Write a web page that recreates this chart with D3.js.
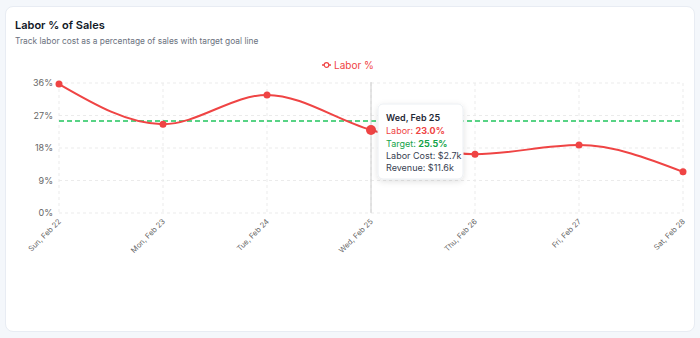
<!DOCTYPE html>
<html>
<head>
<meta charset="utf-8">
<script src="https://cdn.jsdelivr.net/npm/d3@7/dist/d3.min.js"></script>
<style>
  html, body { margin: 0; padding: 0; background: #f4f7fb; }
  body { width: 700px; height: 338px; overflow: hidden; font-family: Inter, "Noto Sans", sans-serif; }
  .card { position: absolute; left: 5px; top: 6px; width: 690px; height: 326px; background: #fff;
          border: 1px solid #e8ecf3; border-radius: 8px; box-sizing: border-box; }
  svg { position: absolute; left: 0; top: 0; }
</style>
</head>
<body>
<div class="card"></div>
<svg id="chart" width="700" height="338"></svg>
<script>
// Daily labor cost as % of sales
const days = ["Sun, Feb 22", "Mon, Feb 23", "Tue, Feb 24", "Wed, Feb 25", "Thu, Feb 26", "Fri, Feb 27", "Sat, Feb 28"];
const laborPct = [35.7, 24.6, 32.7, 23.0, 16.3, 18.8, 11.4];
const targetPct = 25.5;
const yTicks = [0, 9, 18, 27, 36];

// Highlighted day details
const activeIndex = 3;
const activeLaborCost = "$2.7k";
const activeRevenue = "$11.6k";

const red = "#ef4444", green = "#22c55e";
const svg = d3.select("#chart");

svg.append("text").attr("x", 15).attr("y", 28.5)
  .attr("font-size", 11).attr("font-weight", 600).attr("fill", "#111827")
  .text("Labor % of Sales");
svg.append("text").attr("x", 15).attr("y", 43.5)
  .attr("font-size", 8.4).attr("fill", "#6b7280")
  .text("Track labor cost as a percentage of sales with target goal line");

const x = d3.scalePoint().domain(days).range([59, 683]);
const y = d3.scaleLinear().domain([0, 36]).range([213, 83]);

// Grid
const grid = svg.append("g").attr("stroke", "#ebebeb").attr("stroke-dasharray", "3,3").attr("stroke-width", 1);
grid.selectAll("line.h").data(yTicks).join("line")
  .attr("x1", 59).attr("x2", 683).attr("y1", d => y(d)).attr("y2", d => y(d));
grid.selectAll("line.v").data(days).join("line")
  .attr("x1", d => x(d)).attr("x2", d => x(d)).attr("y1", 83).attr("y2", 213);

// Axes
const yAxis = svg.append("g").attr("transform", "translate(59,0)")
  .call(d3.axisLeft(y).tickValues(yTicks).tickFormat(d => d + "%").tickSize(0).tickPadding(6));
yAxis.select(".domain").remove();
yAxis.selectAll("text").attr("font-size", 9).attr("fill", "#666").attr("font-family", "Inter, sans-serif");

const xAxis = svg.append("g").attr("transform", "translate(0,213)")
  .call(d3.axisBottom(x).tickSize(0).tickPadding(0));
xAxis.select(".domain").remove();
xAxis.selectAll("text")
  .attr("font-size", 7.5).attr("fill", "#666").attr("font-family", "Inter, sans-serif")
  .attr("text-anchor", "end").attr("dy", 0)
  .attr("transform", "translate(2,9) rotate(-45)");

// Target line
svg.append("line").attr("x1", 59).attr("x2", 683)
  .attr("y1", y(targetPct)).attr("y2", y(targetPct))
  .attr("stroke", green).attr("stroke-width", 1.5).attr("stroke-dasharray", "5,3");

// Hover cursor
svg.append("line").attr("x1", x(days[activeIndex])).attr("x2", x(days[activeIndex]))
  .attr("y1", 82).attr("y2", 213).attr("stroke", "#ccc").attr("stroke-width", 1);

// Labor line
const line = d3.line().x((d, i) => x(days[i])).y(d => y(d)).curve(d3.curveMonotoneX);
svg.append("path").datum(laborPct).attr("d", line)
  .attr("fill", "none").attr("stroke", red).attr("stroke-width", 2);

svg.selectAll("circle.dot").data(laborPct).join("circle")
  .attr("cx", (d, i) => x(days[i])).attr("cy", d => y(d))
  .attr("r", (d, i) => i === activeIndex ? 5 : 3.5)
  .attr("fill", red);

// Legend
const lg = svg.append("g").attr("transform", "translate(322,65)");
lg.append("line").attr("x1", 0).attr("x2", 9).attr("y1", 0).attr("y2", 0).attr("stroke", red).attr("stroke-width", 1.5);
lg.append("circle").attr("cx", 4.5).attr("cy", 0).attr("r", 2.3).attr("fill", "#fff").attr("stroke", red).attr("stroke-width", 1.2);
lg.append("text").attr("x", 12).attr("y", 3.8).attr("font-size", 10).attr("fill", red).text("Labor %");

// Tooltip
const defs = svg.append("defs");
const f = defs.append("filter").attr("id", "shadow").attr("x", "-20%").attr("y", "-20%").attr("width", "140%").attr("height", "150%");
f.append("feDropShadow").attr("dx", 0).attr("dy", 2).attr("stdDeviation", 3).attr("flood-color", "#000").attr("flood-opacity", 0.12);

const tt = svg.append("g").attr("transform", "translate(378,104)");
tt.append("rect").attr("width", 85).attr("height", 75).attr("rx", 5)
  .attr("fill", "#fff").attr("stroke", "#eceff3").attr("filter", "url(#shadow)");
tt.append("text").attr("x", 8).attr("y", 17).attr("font-size", 9).attr("font-weight", 600).attr("fill", "#1f2937")
  .text(days[activeIndex]);
const l1 = tt.append("text").attr("x", 8).attr("y", 30).attr("font-size", 9).attr("fill", red);
l1.append("tspan").text("Labor: ");
l1.append("tspan").attr("font-weight", 700).text(laborPct[activeIndex].toFixed(1) + "%");
const l2 = tt.append("text").attr("x", 8).attr("y", 42.5).attr("font-size", 9).attr("fill", "#16a34a");
l2.append("tspan").text("Target: ");
l2.append("tspan").attr("font-weight", 700).text(targetPct.toFixed(1) + "%");
tt.append("text").attr("x", 8).attr("y", 55).attr("font-size", 9).attr("fill", "#374151")
  .text("Labor Cost: " + activeLaborCost);
tt.append("text").attr("x", 8).attr("y", 67).attr("font-size", 9).attr("fill", "#374151")
  .text("Revenue: " + activeRevenue);
</script>
</body>
</html>
